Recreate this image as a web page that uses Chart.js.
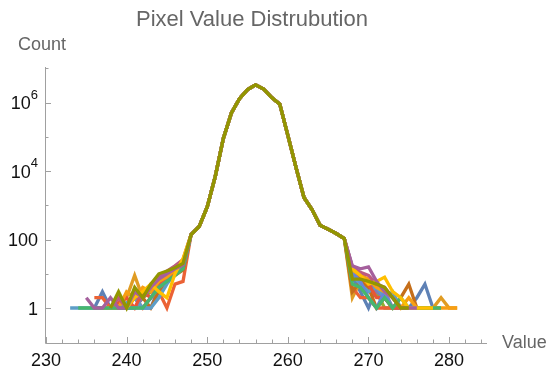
<!DOCTYPE html>
<html>
<head>
<meta charset="utf-8">
<script src="https://cdn.jsdelivr.net/npm/chart.js@4"></script>
<style>
  html, body { margin: 0; padding: 0; background: #fff; }
</style>
</head>
<body>
<canvas id="c" width="555" height="371"></canvas>
<script>
// pixel values 233..281
const values = [];
for (let v = 233; v <= 281; v++) values.push(v);

// shared central part, values 248..267
const body = [140, 240, 900, 7000, 90000, 500000, 1300000, 2400000, 3300000, 2500000,
              1400000, 900000, 110000, 13000, 1700, 750, 260, 200, 150, 107];

// left tails 233..247, right tails 268..281 (null = no pixels)
const blueL     = [null,null,null,1,3,1,1,1,2,1,1,4,6,12,18];
const blueR     = [8,3,1,4,3,2,1,1,2,5,1,null,null,null];
const orangeL   = [null,null,null,null,null,null,1,2,9,2,3,5,8,14,22];
const orangeR   = [2,6,4,3,3,1,1,null,1,null,1,2,1,1];
const greenL    = [null,null,null,null,null,1,1,null,1,2,3,6,9,14,20];
const greenR    = [12,7,3,3,1,1,null,1,null,null,null,null,null,null];
const redL      = [null,null,null,2,2,1,null,1,2,1,2,3,1,5,6];
const redR      = [4,2,2,1,1,1,1,1,1,null,null,null,null,null];
const purpleL   = [null,null,null,null,1,1,2,1,1,2,4,7,11,16,24];
const purpleR   = [16,10,6,3,2,1,1,1,null,1,1,1,null,null];
const brownL    = [null,null,null,null,null,null,1,1,3,2,1,3,6,9,13];
const brownR    = [3,6,4,1,2,1,2,5,1,1,null,null,null,null];
const skyL      = [1,1,null,null,null,null,1,null,2,1,1,2,5,10,16];
const skyR      = [9,5,3,4,2,3,1,null,1,1,null,null,null,null];
const yellowL   = [null,null,null,null,null,null,null,1,2,3,5,3,2,10,28];
const yellowR   = [14,9,5,6,8,3,2,1,1,null,1,null,null,null];
const magentaL  = [null,null,2,1,1,2,1,1,3,2,4,7,10,14,18];
const magentaR  = [17,14,16,6,3,2,1,1,1,null,null,null,null,null];
const red2L     = [null,null,null,null,null,1,null,2,1,3,2,5,7,11,15];
const red2R     = [10,8,5,2,2,1,null,1,null,null,null,null,null,null];
const blue2L    = [null,null,null,null,null,null,1,1,null,1,2,4,6,9,15];
const blue2R    = [11,6,2,1,3,1,null,null,null,null,null,null,null,null];
const orange2L  = [null,null,null,null,1,null,1,3,2,4,3,6,8,13,19];
const orange2R  = [13,9,7,4,3,2,1,2,1,null,null,null,1,1];
const pinkL     = [null,null,null,null,null,1,2,1,2,2,5,8,12,17,26];
const pinkR     = [15,11,9,5,4,2,1,1,null,null,null,null,null,null];
const tealL     = [null,1,1,null,null,null,null,null,1,1,2,4,6,9,14];
const tealR     = [5,4,2,1,2,1,2,1,1,1,1,1,null,null];
const oliveL    = [null,null,null,null,null,1,3,1,4,2,5,10,12,15,20];
const oliveR    = [7,7,6,5,4,2,1,1,null,null,null,null,null,null];

// drawing order: first is at the bottom, last on top
const seriesList = [
  ['#5E81B5', blueL, blueR],
  ['#E09C24', orangeL, orangeR],
  ['#8FB032', greenL, greenR],
  ['#EB6235', redL, redR],
  ['#8778B3', purpleL, purpleR],
  ['#C56E1A', brownL, brownR],
  ['#5D9EC7', skyL, skyR],
  ['#E95536', red2L, red2R],
  ['#6685D9', blue2L, blue2R],
  ['#F89F13', orange2L, orange2R],
  ['#BC5B80', pinkL, pinkR],
  ['#47B66D', tealL, tealR],
  ['#FFBF00', yellowL, yellowR],
  ['#A5609D', magentaL, magentaR],
  ['#929600', oliveL, oliveR]
];

const xMajor = [230, 240, 250, 260, 270, 280];
const yMajor = [1, 100, 1e4, 1e6];
const yMajorText = [['1', ''], ['100', ''], ['10', '4'], ['10', '6']];
const yMinor = [10, 1000, 1e5, 1e7];

const datasets = seriesList.map(([col, L, R]) => {
  const counts = L.concat(body, R);
  const pts = [];
  values.forEach((v, i) => { if (counts[i] != null) pts.push({ x: v, y: counts[i] }); });
  return {
    data: pts,
    borderColor: col,
    borderWidth: 3.3,
    pointRadius: 0,
    fill: false,
    tension: 0
  };
}).reverse(); // Chart.js paints dataset 0 last

const axisGray = '#a0a0a0';

const decor = {
  id: 'decor',
  afterDraw(chart) {
    const ctx = chart.ctx;
    const xs = chart.scales.x, ys = chart.scales.y;
    const a = chart.chartArea;
    ctx.save();
    ctx.strokeStyle = axisGray;
    ctx.lineWidth = 1;
    // axes
    ctx.beginPath();
    ctx.moveTo(a.left + 0.5, a.top);
    ctx.lineTo(a.left + 0.5, a.bottom + 0.5);
    ctx.lineTo(a.right, a.bottom + 0.5);
    ctx.stroke();
    // x ticks
    ctx.beginPath();
    for (let v = 230; v <= 284; v += 2) {
      const px = Math.round(xs.getPixelForValue(v)) + 0.5;
      const len = xMajor.includes(v) ? 6 : 3.5;
      ctx.moveTo(px, a.bottom);
      ctx.lineTo(px, a.bottom - len);
    }
    // y ticks
    yMajor.forEach(v => {
      const py = Math.round(ys.getPixelForValue(v)) + 0.5;
      ctx.moveTo(a.left, py); ctx.lineTo(a.left + 6, py);
    });
    yMinor.forEach(v => {
      const py = Math.round(ys.getPixelForValue(v)) + 0.5;
      ctx.moveTo(a.left, py); ctx.lineTo(a.left + 3.5, py);
    });
    ctx.stroke();

    // tick labels
    ctx.fillStyle = '#111';
    ctx.font = '18px "Liberation Sans", Arial, sans-serif';
    ctx.textAlign = 'center';
    ctx.textBaseline = 'alphabetic';
    xMajor.forEach(v => {
      ctx.fillText(String(v), xs.getPixelForValue(v), 366);
    });
    yMajor.forEach((v, i) => {
      const py = ys.getPixelForValue(v);
      const [base, sup] = yMajorText[i];
      const right = 38;
      ctx.textAlign = 'right';
      ctx.font = '13px "Liberation Sans", Arial, sans-serif';
      const sw = sup ? ctx.measureText(sup).width : 0;
      if (sup) ctx.fillText(sup, right, py - 4);
      ctx.font = '18px "Liberation Sans", Arial, sans-serif';
      ctx.fillText(base, right - sw, py + 6.5);
    });

    // titles
    ctx.fillStyle = '#666';
    ctx.textAlign = 'center';
    ctx.font = '22px "Liberation Sans", Arial, sans-serif';
    ctx.fillText('Pixel Value Distrubution', 252, 26);
    ctx.textAlign = 'left';
    ctx.font = '18px "Liberation Sans", Arial, sans-serif';
    ctx.fillText('Count', 18, 50);
    ctx.fillText('Value', 502, 348);
    ctx.restore();
  }
};

new Chart(document.getElementById('c').getContext('2d'), {
  type: 'line',
  data: { datasets: datasets },
  options: {
    responsive: false,
    animation: false,
    events: [],
    layout: { padding: { top: 67, right: 68, left: 0, bottom: 0 } },
    plugins: { legend: { display: false }, tooltip: { enabled: false }, title: { display: false } },
    scales: {
      x: {
        type: 'linear',
        min: 229.88,
        max: 284.7,
        grid: { display: false },
        border: { display: false },
        ticks: { display: false },
        afterFit: s => { s.height = 28; }
      },
      y: {
        type: 'logarithmic',
        min: 0.095,
        max: 1.1e7,
        grid: { display: false },
        border: { display: false },
        ticks: { display: false },
        afterFit: s => { s.width = 45; }
      }
    }
  },
  plugins: [decor]
});
</script>
</body>
</html>
